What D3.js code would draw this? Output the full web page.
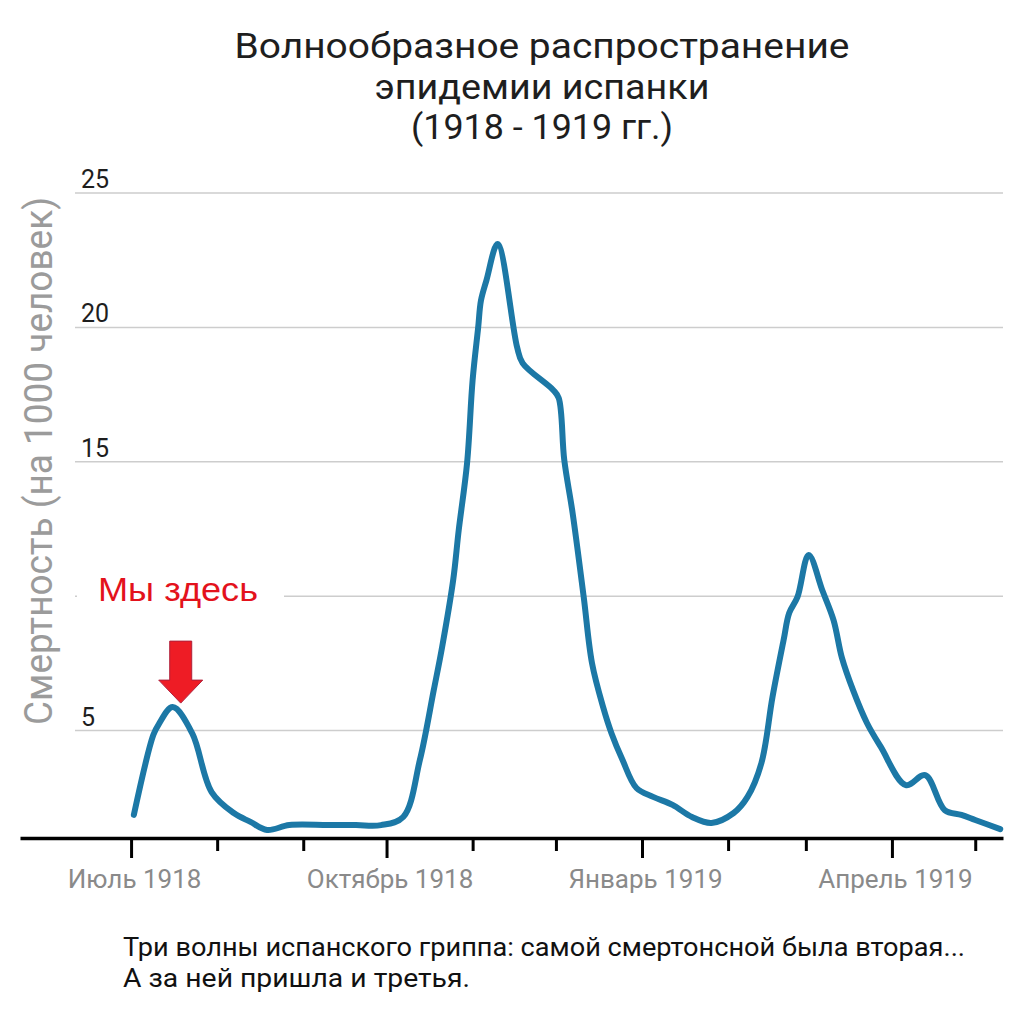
<!DOCTYPE html>
<html><head><meta charset="utf-8">
<script src="https://cdn.jsdelivr.net/npm/d3@7"></script>
<style>body{margin:0;background:#fff} svg{display:block}</style>
</head><body>
<svg id="c" width="1023" height="1031"></svg>
<script>
const titleLines = ["Волнообразное распространение", "эпидемии испанки", "(1918 - 1919 гг.)"];
const yTitle = "Смертность (на 1000 человек)";
const dates = [
  "1918-07-02","1918-07-09","1918-07-11","1918-07-16","1918-07-23","1918-07-30",
  "1918-08-07","1918-08-13","1918-08-19","1918-08-27","1918-09-10","1918-09-20","1918-09-29",
  "1918-10-07","1918-10-13","1918-10-18","1918-10-21","1918-10-25","1918-10-27","1918-10-30",
  "1918-11-01","1918-11-03","1918-11-04","1918-11-06","1918-11-10","1918-11-17","1918-11-19",
  "1918-11-30","1918-12-02","1918-12-04","1918-12-07","1918-12-11","1918-12-14","1918-12-18",
  "1918-12-21","1918-12-25","1918-12-30","1919-01-05","1919-01-12","1919-01-19","1919-01-26",
  "1919-02-03","1919-02-08","1919-02-13","1919-02-17","1919-02-21","1919-02-23","1919-02-26",
  "1919-03-02","1919-03-07","1919-03-11","1919-03-14","1919-03-18","1919-03-23","1919-03-28",
  "1919-04-06","1919-04-13","1919-04-20","1919-04-26","1919-05-01","1919-05-10"
];
const values = [
  1.86, 4.83, 5.24, 5.87, 4.9, 2.71,
  1.93, 1.6, 1.3, 1.48, 1.48, 1.48, 1.48,
  1.78, 3.9, 6.5, 8.1, 10.6, 12.46, 14.95,
  18.04, 20.0, 21.0, 21.76, 23.1, 19.27, 18.67,
  17.67, 17.37, 15.07, 13.1, 9.97, 7.5, 5.87,
  4.9, 3.9, 2.86, 2.53, 2.23, 1.78, 1.56,
  1.93, 2.53, 3.79, 6.25, 8.37, 9.37, 9.97,
  11.53, 10.2, 9.1, 7.7, 6.5, 5.28, 4.39,
  2.97, 3.34, 2.04, 1.86, 1.67, 1.33
];
const yTicks = [5, 10, 15, 20, 25];
const yTickLabels = ["5", "", "15", "20", "25"];
const tickMonths = ["1918-07-01","1918-08-01","1918-09-01","1918-10-01","1918-11-01","1918-12-01",
  "1919-01-01","1919-02-01","1919-03-01","1919-04-01","1919-05-01"];
const labelMonths = ["1918-07-01", "1918-10-01", "1919-01-01", "1919-04-01"];
const labelTexts = ["Июль 1918", "Октябрь 1918", "Январь 1919", "Апрель 1919"];
const annotation = "Мы здесь";
const annotationDate = "1918-07-16";
const annotationValue = 5.87;
const captionLines = ["Три волны испанского гриппа: самой смертонсной была вторая...", "А за ней пришла и третья."];

const parse = d3.timeParse("%Y-%m-%d");
const data = dates.map((d, i) => ({date: parse(d), value: values[i]}));
const svg = d3.select("#c");
const font = "Roboto, 'Open Sans', sans-serif";

const x = d3.scaleTime().domain([parse("1918-05-22"), parse("1919-05-11")]).range([20, 1003]);
const y = d3.scaleLinear().domain([1, 25]).range([838, 193]);

// title
const titleWidths = [615, 335, 262];
svg.append("g").selectAll("text").data(titleLines).join("text")
  .attr("x", 542).attr("y", (d, i) => 58 + i * 40.5)
  .attr("text-anchor", "middle").attr("font-family", font).attr("font-size", 35)
  .attr("textLength", (d, i) => titleWidths[i]).attr("lengthAdjust", "spacingAndGlyphs")
  .attr("fill", "#1e1e1e").text(d => d);

// gridlines
svg.append("g").selectAll("line").data(yTicks).join("line")
  .attr("x1", 75).attr("x2", 1003).attr("y1", d => y(d)).attr("y2", d => y(d))
  .attr("stroke", "#cdcdcd").attr("stroke-width", 1.5);
svg.append("g").selectAll("text").data(yTicks.filter((d, i) => yTickLabels[i])).join("text")
  .attr("x", 81).attr("y", d => y(d) - 5)
  .attr("font-family", font).attr("font-size", 25).attr("fill", "#1e1e1e")
  .text(d => yTickLabels[yTicks.indexOf(d)]);

// y title
svg.append("text")
  .attr("transform", "translate(52,461) rotate(-90)")
  .attr("text-anchor", "middle").attr("font-family", font).attr("font-size", 39)
  .attr("fill", "#9b9b9b").attr("textLength", 528).attr("lengthAdjust", "spacingAndGlyphs")
  .text(yTitle);

// x axis
const labelMap = new Map(labelMonths.map((d, i) => [+parse(d), labelTexts[i]]));
const axis = d3.axisBottom(x).tickValues(tickMonths.map(parse)).tickSize(13).tickSizeOuter(0)
  .tickFormat(d => labelMap.get(+d) || "");
const gx = svg.append("g").attr("transform", "translate(0,838)").call(axis);
gx.select(".domain").attr("stroke", "#000").attr("stroke-width", 3.5);
gx.selectAll(".tick line").attr("stroke", "#000").attr("stroke-width", 3)
  .attr("y2", d => labelMap.has(+d) ? 20 : 13);
gx.selectAll(".tick text").attr("y", 50).attr("dy", 0).attr("dx", 3)
  .attr("font-family", font).attr("font-size", 26).attr("fill", "#8a8a8a");

// line
svg.append("path").datum(data)
  .attr("fill", "none").attr("stroke", "#1c78a6").attr("stroke-width", 6)
  .attr("stroke-linejoin", "round").attr("stroke-linecap", "round")
  .attr("d", d3.line().x(d => x(d.date)).y(d => y(d.value)).curve(d3.curveCatmullRom.alpha(0.5)));

// annotation
svg.append("rect").attr("x", 77).attr("y", 570).attr("width", 207).attr("height", 44).attr("fill", "#fff");
svg.append("text").attr("x", 98).attr("y", 601)
  .attr("font-family", "'Liberation Sans', Arial, sans-serif").attr("font-size", 34)
  .attr("textLength", 160).attr("lengthAdjust", "spacingAndGlyphs")
  .attr("fill", "#e3121c").text(annotation);
const ax = x(parse(annotationDate)) + 8, ay = y(annotationValue) - 4;
svg.append("path")
  .attr("d", `M${ax - 11},${ay - 62} L${ax + 11},${ay - 62} L${ax + 11},${ay - 23} L${ax + 22},${ay - 23} L${ax},${ay} L${ax - 22},${ay - 23} L${ax - 11},${ay - 23} Z`)
  .attr("fill", "#ee1c25").attr("stroke", "#b0203a").attr("stroke-width", 1);

// caption
svg.append("g").selectAll("text").data(captionLines).join("text")
  .attr("x", 123).attr("y", (d, i) => 956 + i * 31)
  .attr("font-family", font).attr("font-size", 26).attr("fill", "#111")
  .attr("textLength", (d, i) => i === 0 ? 842 : 347).attr("lengthAdjust", "spacingAndGlyphs")
  .text(d => d);
</script>
</body></html>
